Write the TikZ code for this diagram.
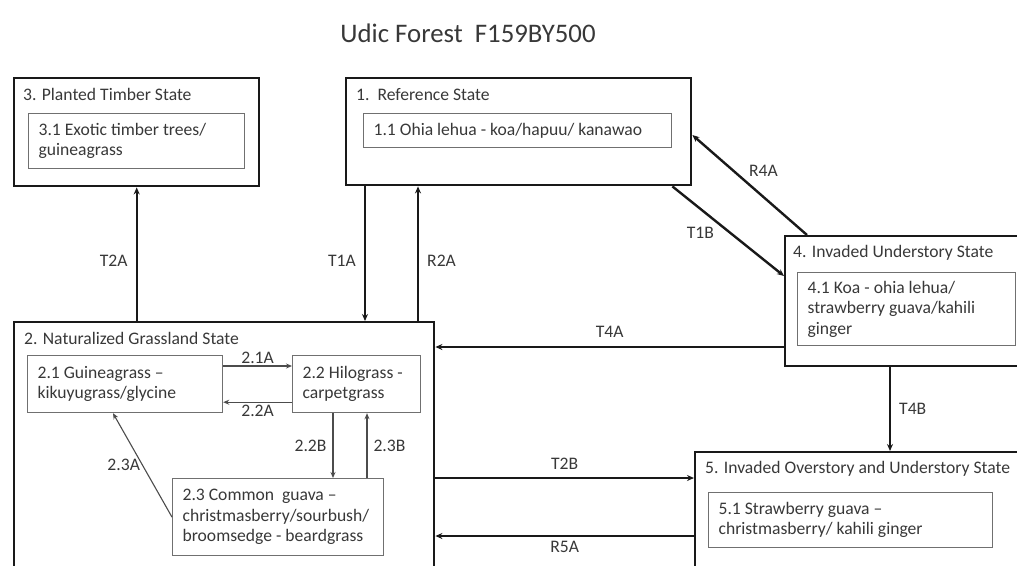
\documentclass[tikz,border=0pt]{standalone}
\usepackage{fontspec}
\setmainfont{Carlito}
\usetikzlibrary{arrows.meta,positioning}

\definecolor{inkgray}{HTML}{383838}
\definecolor{framegray}{HTML}{707070}

\tikzset{
  statebox/.style={draw=black!90, line width=2.4pt, anchor=north west, inner sep=0pt},
  boxtitle/.style={anchor=west, inner sep=0pt, text=inkgray, font=\fontsize{17.6}{20.5}\selectfont},
  phasebox/.style={draw=framegray, line width=1.2pt, anchor=north west, align=flush left,
    inner xsep=10pt, inner ysep=0pt, text=inkgray, font=\fontsize{17.6}{20.5}\selectfont},
  trans/.style={line width=2.4pt, draw=black!90, -{Stealth[length=7pt,width=6pt]}},
  pathway/.style={line width=1.1pt, draw=black!70, -{Stealth[length=6pt,width=5pt]}},
  lbl/.style={text=inkgray, font=\fontsize{17.6}{20.5}\selectfont, inner sep=2pt}
}

\begin{document}
\begin{tikzpicture}[x=1pt,y=-1pt]
  \useasboundingbox (0,0) rectangle (1017,565);
  \clip (0,0) rectangle (1017,565);

  \node[text=inkgray, font=\fontsize{26.8}{30}\selectfont] (title) at (468,33) {Udic Forest\ \ F159BY500};

  % states
  \node[statebox, minimum width=245pt, minimum height=108pt] (timber) at (13,77) {};
  \node[statebox, minimum width=345pt, minimum height=107pt] (ref) at (345,77) {};
  \node[statebox, minimum width=250pt, minimum height=130pt] (under) at (784,235) {};
  \node[statebox, minimum width=420pt, minimum height=260pt] (grass) at (13,321) {};
  \node[statebox, minimum width=340pt, minimum height=130pt] (over) at (694,451) {};

  \node[boxtitle] (timbert) at ([xshift=10pt,yshift=-17.5pt]timber.north west) {3. Planted Timber State};
  \node[boxtitle] (reft) at ([xshift=11pt,yshift=-17.5pt]ref.north west) {1.\ \ Reference State};
  \node[boxtitle] (undert) at ([xshift=9pt,yshift=-17.5pt]under.north west) {4. Invaded Understory State};
  \node[boxtitle] (grasst) at ([xshift=11pt,yshift=-17.5pt]grass.north west) {2. Naturalized Grassland State};
  \node[boxtitle] (overt) at ([xshift=11pt,yshift=-17.5pt]over.north west) {5. Invaded Overstory and Understory State};

  % community phases
  \node[phasebox, minimum width=216pt, minimum height=55pt, text width=196pt] (timber1) at (28,113)
    {3.1 Exotic timber trees/\\guineagrass};
  \node[phasebox, minimum width=308pt, minimum height=34pt, text width=288pt] (ref1) at (363,113)
    {1.1 Ohia lehua - koa/hapuu/ kanawao};
  \node[phasebox, minimum width=218pt, minimum height=73pt, text width=198pt] (under1) at (797,272)
    {4.1 Koa - ohia lehua/\\strawberry guava/kahili\\ginger};
  \node[phasebox, minimum width=195pt, minimum height=57pt, text width=175pt] (grass1) at (27,355)
    {2.1 Guineagrass --\\kikuyugrass/glycine};
  \node[phasebox, minimum width=128pt, minimum height=57pt, text width=108pt] (grass2) at (292,355)
    {2.2 Hilograss -\\carpetgrass};
  \node[phasebox, minimum width=211pt, minimum height=77pt, text width=191pt] (grass3) at (172,478)
    {2.3 Common\ \ guava --\\christmasberry/sourbush/\\broomsedge - beardgrass};
  \node[phasebox, minimum width=284pt, minimum height=55pt, text width=264pt] (over1) at (708,492)
    {5.1 Strawberry guava --\\christmasberry/ kahili ginger};

  % transitions between states
  \draw[trans] (timber.south |- grass.north) -- node[lbl, left=6pt, pos=0.45] {T2A} (timber.south);
  \draw[trans] ([xshift=20pt]ref.south west) -- node[lbl, left=6pt, pos=0.55] {T1A} ([xshift=20pt]ref.south west |- grass.north);
  \draw[trans] ([xshift=73pt]ref.south west |- grass.north) -- node[lbl, right=6pt, pos=0.45] {R2A} ([xshift=73pt]ref.south west);
  \draw[trans] ([xshift=-20pt]ref.south east) -- node[lbl, below left=2pt and 0pt, pos=0.4] {T1B} ([yshift=-41pt]under.north west);
  \draw[trans] ([xshift=23pt]under.north west) -- node[lbl, above right=0pt and 2pt, pos=0.55] {R4A} ([yshift=-58pt]ref.north east);
  \draw[trans] ([yshift=-112pt]under.north west) -- node[lbl, above=6pt] {T4A} ([yshift=-112pt]under.north west -| grass.east);
  \draw[trans] ([xshift=106pt]under.south west) -- node[lbl, right=6pt] {T4B} ([xshift=106pt]under.south west |- over.north);
  \draw[trans] ([yshift=-27pt]over.north west -| grass.east) -- node[lbl, above=5pt] {T2B} ([yshift=-27pt]over.north west);
  \draw[trans] ([yshift=-85pt]over.north west) -- node[lbl, below=2pt] {R5A} ([yshift=-85pt]over.north west -| grass.east);

  % pathways within state 2
  \draw[pathway] ([yshift=-11pt]grass1.north east) -- node[lbl, above=0pt] {2.1A} ([yshift=-11pt]grass1.north east -| grass2.west);
  \draw[pathway] ([yshift=11pt]grass2.south west) -- node[lbl, below=0pt] {2.2A} ([yshift=11pt]grass2.south west -| grass1.east);
  \draw[pathway] ([xshift=41pt]grass2.south west) -- node[lbl, left=4pt] {2.2B} ([xshift=41pt]grass2.south west |- grass3.north);
  \draw[pathway] ([xshift=75pt]grass2.south west |- grass3.north) -- node[lbl, right=4pt] {2.3B} ([xshift=75pt]grass2.south west);
  \draw[pathway] (grass3.west) -- node[lbl, left=0pt] {2.3A} ([xshift=86pt]grass1.south west);
\end{tikzpicture}
\end{document}
